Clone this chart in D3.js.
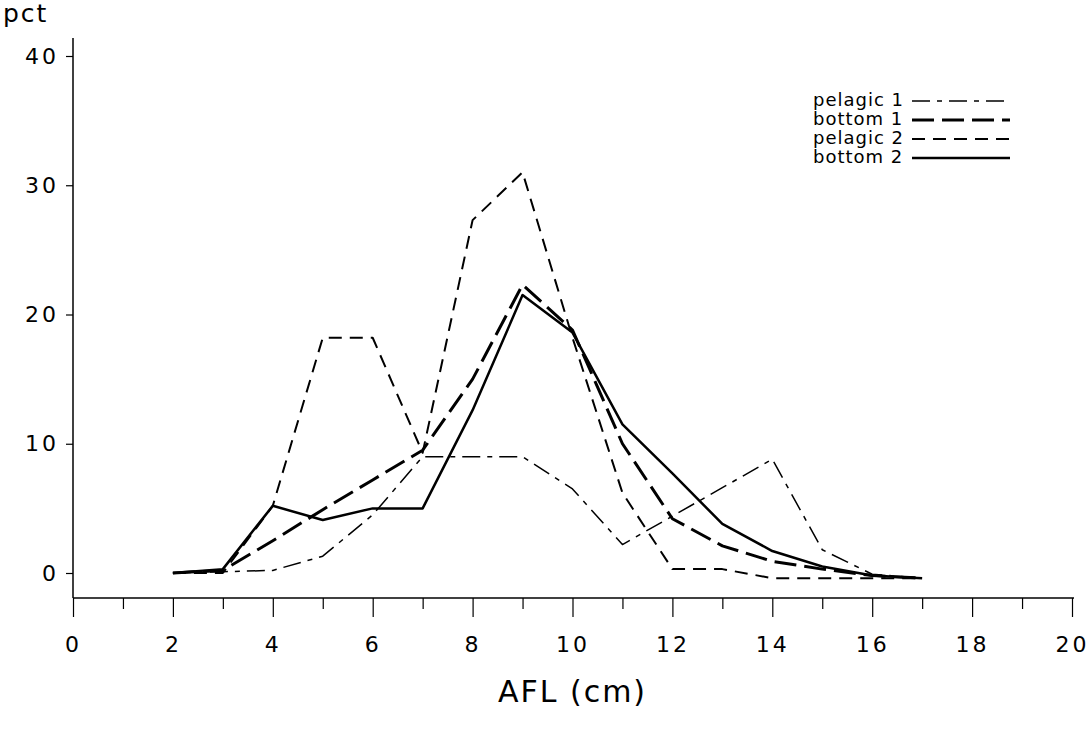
<!DOCTYPE html>
<html>
<head>
<meta charset="utf-8">
<script src="https://cdn.jsdelivr.net/npm/d3@7"></script>
<style>
  body { margin: 0; background: #fff; }
  text { font-family: "DejaVu Sans", sans-serif; fill: #000; }
</style>
</head>
<body>
<svg width="1090" height="738"></svg>
<script>
// AFL length classes (cm)
const afl = [2, 3, 4, 5, 6, 7, 8, 9, 10, 11, 12, 13, 14, 15, 16, 17];

// percentages
const pelagic1 = [0, 0.1, 0.2, 1.3, 4.5, 9.0, 9.0, 9.0, 6.5, 2.2, 4.4, 6.6, 8.8, 1.8, -0.1, -0.4];
const bottom1  = [0, 0.2, 2.5, 4.9, 7.2, 9.5, 15.0, 22.3, 18.8, 10.0, 4.2, 2.1, 0.9, 0.3, -0.2, -0.4];
const pelagic2 = [0, 0, 5.2, 18.2, 18.2, 9.3, 27.3, 31.0, 18.2, 6.2, 0.3, 0.3, -0.4, -0.4, -0.4, -0.4];
const bottom2  = [0, 0.3, 5.2, 4.1, 5.0, 5.0, 12.6, 21.5, 18.6, 11.5, 7.7, 3.8, 1.7, 0.5, -0.2, -0.4];

const xTicks = d3.range(0, 21, 1);
const yTicks = [0, 10, 20, 30, 40];

const seriesNames = ["pelagic 1", "bottom 1", "pelagic 2", "bottom 2"];
const seriesData = [pelagic1, bottom1, pelagic2, bottom2];

// line styles per series
const styles = [
  { dash: "18,7,5,7", width: 1.5 },
  { dash: "22,8", width: 3 },
  { dash: "13,8", width: 2 },
  { dash: null, width: 2.5 }
];

const svg = d3.select("svg");

const x = d3.scaleLinear().domain([0, 20]).range([73, 1072]);
const y = d3.scaleLinear().domain([0, 40]).range([573, 56]);

// x axis
const xAxis = svg.append("g")
  .attr("transform", "translate(0,598)")
  .call(d3.axisBottom(x).tickValues(xTicks).tickSizeOuter(0)
    .tickFormat(d => d % 2 === 0 ? d : ""));
xAxis.select(".domain").attr("stroke-width", 1.5).attr("d", `M${x(0)},0H${x(20) + 2}`);
xAxis.selectAll(".tick line")
  .attr("y2", d => d % 2 === 0 ? 19 : 11)
  .attr("stroke-width", 1.2);
xAxis.selectAll(".tick text")
  .attr("y", 38)
  .attr("dy", "0.71em")
  .style("font-size", "22px")
  .style("letter-spacing", "3px");

// y axis
const yAxis = svg.append("g")
  .attr("transform", `translate(${x(0)},0)`)
  .call(d3.axisLeft(y).tickValues(yTicks).tickSize(7).tickSizeOuter(0));
yAxis.select(".domain").attr("stroke-width", 1.5).attr("d", "M0,38V598");
yAxis.selectAll(".tick line").attr("stroke-width", 1.2);
yAxis.selectAll(".tick text")
  .attr("x", -14)
  .style("font-size", "22px")
  .style("letter-spacing", "3px");

// axis titles
svg.append("text")
  .attr("x", 3).attr("y", 22)
  .style("font-size", "25px")
  .style("letter-spacing", "2px")
  .text("pct");

svg.append("text")
  .attr("x", x(10)).attr("y", 702)
  .attr("text-anchor", "middle")
  .style("font-size", "30px")
  .style("letter-spacing", "2px")
  .text("AFL (cm)");

// lines
const line = d3.line()
  .x((d, i) => x(afl[i]))
  .y(d => y(d));

svg.selectAll(".series")
  .data(seriesData)
  .enter()
  .append("path")
  .attr("class", "series")
  .attr("d", d => line(d))
  .attr("fill", "none")
  .attr("stroke", "#000")
  .attr("stroke-width", (d, i) => styles[i].width)
  .attr("stroke-dasharray", (d, i) => styles[i].dash)
  .attr("stroke-linejoin", "round");

// legend
const legend = svg.append("g");
seriesNames.forEach((name, i) => {
  const ly = 100 + i * 19;
  legend.append("text")
    .attr("x", 813).attr("y", ly)
    .attr("dy", "0.35em")
    .style("font-size", "18px")
    .style("letter-spacing", "1px")
    .text(name);
  legend.append("line")
    .attr("x1", 912).attr("x2", 1010)
    .attr("y1", ly + 1).attr("y2", ly + 1)
    .attr("stroke", "#000")
    .attr("stroke-width", styles[i].width)
    .attr("stroke-dasharray", styles[i].dash);
});
</script>
</body>
</html>
